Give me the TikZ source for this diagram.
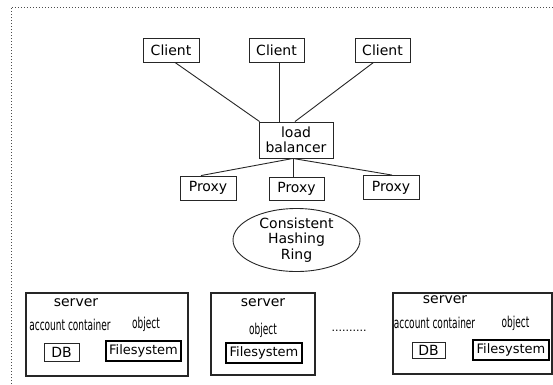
\documentclass[tikz,border=0pt]{standalone}
\usepackage{fontspec}
\usepackage{graphicx}
\setmainfont{DejaVu Sans}
\usetikzlibrary{shapes.geometric}
\tikzset{
  box/.style={draw=black!85, line width=0.9pt, inner sep=0pt, align=center, font=\fontsize{14}{15.5}\selectfont},
  fsbox/.style={draw=black, line width=1.7pt, inner sep=0pt, font=\fontsize{13}{15}\selectfont},
  srvbox/.style={draw=black!85, line width=1.1pt, inner sep=0pt},
  lbl/.style={inner sep=0pt, font=\fontsize{14}{15.5}\selectfont},
  cond/.style={inner sep=0pt, font=\fontsize{15}{16}\selectfont},
  link/.style={draw=black!85, line width=0.9pt},
}
\newcommand{\cnd}[1]{\scalebox{0.6}[1]{#1}}
\begin{document}
\begin{tikzpicture}[x=1pt,y=-1pt]
\useasboundingbox (0,0) rectangle (553,384);
% dotted frame
\draw[black!70, line width=0.8pt, dash pattern=on 0.9pt off 2.1pt] (11,384) -- (11,7) -- (553,7);
% clients
\node[box, minimum width=56pt, minimum height=24pt] (c1) at (171,50) {Client};
\node[box, minimum width=55pt, minimum height=24pt] (c2) at (276.5,50) {Client};
\node[box, minimum width=55pt, minimum height=24pt] (c3) at (382.5,50) {Client};
% load balancer
\node[box, minimum width=74pt, minimum height=36pt] (lb) at (296,140) {load\\balancer};
% proxies
\node[box, minimum width=56pt, minimum height=24pt] (p1) at (208,188) {Proxy};
\node[box, minimum width=55pt, minimum height=23pt] (p2) at (296.5,188.5) {Proxy};
\node[box, minimum width=56pt, minimum height=24pt] (p3) at (391,187.5) {Proxy};
% ring
\node[box, ellipse, minimum width=127pt, minimum height=56pt] (ring) at (296.5,240) {Consistent\\Hashing\\Ring};
% connectors
\draw[link] ([xshift=4pt]c1.south) -- ([xshift=1pt]lb.north west);
\draw[link] ([xshift=3pt]c2.south) -- ([xshift=3pt]c2.south |- lb.north);
\draw[link] ([xshift=-9pt]c3.south) -- ([xshift=-1pt]lb.north);
\draw[link] ([xshift=-3pt]lb.south) -- ([xshift=-7pt]p1.north);
\draw[link] ([xshift=-3pt]lb.south) -- ([xshift=-3pt]lb.south |- p2.north);
\draw[link] ([xshift=-3pt]lb.south) -- ([xshift=1pt]p3.north);
% server 1
\node[srvbox, minimum width=162pt, minimum height=83pt] (s1) at (107,334.5) {};
\node[lbl] (s1t) at (76,303) {server};
\node[cond] (s1a) at (70,325) {\cnd{account container}};
\node[cond] (s1o) at (146,324) {\cnd{object}};
\node[box, minimum width=35pt, minimum height=18pt] (db1) at (61.5,352) {DB};
\node[fsbox, minimum width=75pt, minimum height=20pt] (fs1) at (143.5,351) {Filesystem};
% server 2
\node[srvbox, minimum width=104pt, minimum height=82pt] (s2) at (263,334) {};
\node[lbl] (s2t) at (263,303) {server};
\node[cond] (s2o) at (263,330) {\cnd{object}};
\node[fsbox, minimum width=76pt, minimum height=20pt] (fs2) at (264,353) {Filesystem};
% dots
\node[lbl, font=\fontsize{11}{12}\selectfont] (dots) at (349,331) {..........};
% server 3
\node[srvbox, minimum width=159pt, minimum height=81pt] (s3) at (472.5,333.5) {};
\node[lbl] (s3t) at (445,300) {server};
\node[cond] (s3a) at (434.5,323) {\cnd{account container}};
\node[cond] (s3o) at (515.5,323) {\cnd{object}};
\node[box, minimum width=33pt, minimum height=16pt] (db3) at (428.5,350) {DB};
\node[fsbox, minimum width=76pt, minimum height=20pt] (fs3) at (511,350) {Filesystem};
\end{tikzpicture}
\end{document}
